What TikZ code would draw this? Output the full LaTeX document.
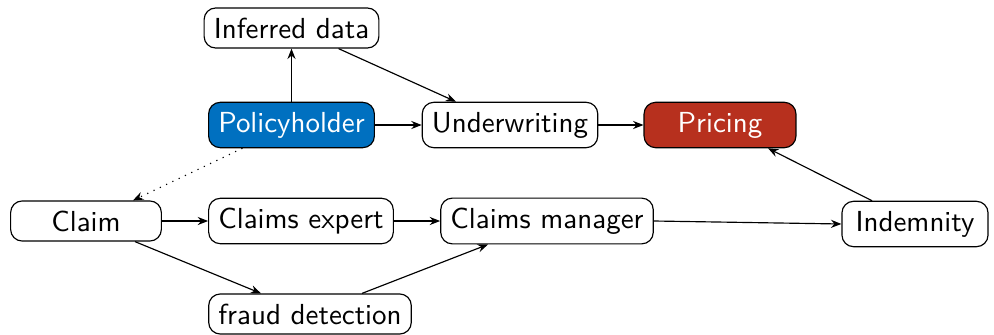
\documentclass[tikz,border=0pt]{standalone}
\usepackage{fontspec}
\usetikzlibrary{arrows.meta,calc}
\definecolor{phblue}{RGB}{0,112,192}
\definecolor{prred}{RGB}{183,48,30}
\tikzset{
  box/.style={draw, rounded corners=4pt, font=\sffamily, inner sep=3.33pt, line width=0.4pt},
  bluebox/.style={box, fill=phblue, text=white},
  redbox/.style={box, fill=prred, text=white},
  arr/.style={-{Stealth[length=3.6pt,width=2.8pt,inset=1.2pt]}, line width=0.4pt},
}
\begin{document}
\begin{tikzpicture}[x=0.345pt,y=-0.345pt]
\useasboundingbox (0,0) rectangle (994,334);
\node[box] (idata) at (291.5,28) {Inferred data};
\node[bluebox] (ph) at (291.5,125) {Policyholder};
\node[box] (uw) at (510,125) {Underwriting};
\node[redbox, minimum width=52.4pt] (pr) at (720,125) {Pricing};
\node[box, minimum width=52pt] (claim) at (86,221) {Claim};
\node[box] (ce) at (301,221) {Claims expert};
\node[box] (cm) at (547,221) {Claims manager};
\node[box, minimum width=50.4pt] (ind) at (915,224) {Indemnity};
\node[box] (fd) at (310,314) {fraud detection};

\draw[arr] (ph.north) -- (idata.south);
\draw[arr] ([xshift=47*0.345pt]idata.south) -- ([xshift=-54*0.345pt]uw.north);
\draw[arr] (ph.east) -- (uw.west);
\draw[arr] (uw.east) -- (pr.west);
\draw[arr, dotted] ([xshift=-49*0.345pt]ph.south) -- ([xshift=47*0.345pt]claim.north);
\draw[arr] (claim.east) -- (ce.west);
\draw[arr] (ce.east) -- (cm.west);
\draw[arr] ([xshift=49*0.345pt]claim.south) -- ([xshift=-49*0.345pt]fd.north);
\draw[arr] ([xshift=52*0.345pt]fd.north) -- ([xshift=-59*0.345pt]cm.south);
\draw[arr] (cm.east) -- (ind.west);
\draw[arr] ([xshift=-43*0.345pt]ind.north) -- ([xshift=48*0.345pt]pr.south);
\end{tikzpicture}
\end{document}
